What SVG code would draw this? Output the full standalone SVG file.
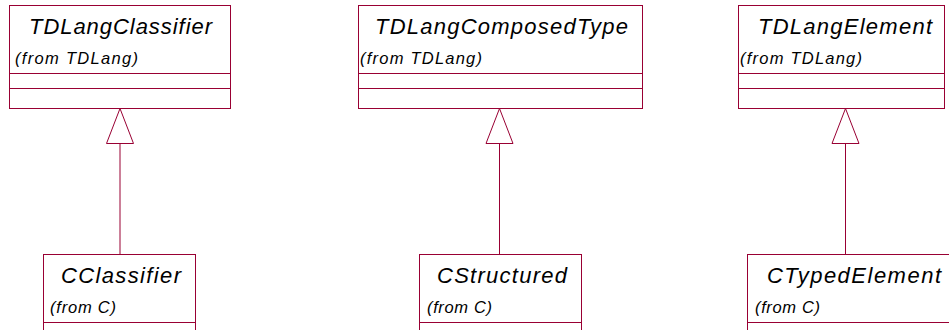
<svg xmlns="http://www.w3.org/2000/svg" width="949" height="330" viewBox="0 0 949 330">
<style>
.box{fill:#fff;stroke:#990033;stroke-width:1}
.ln{stroke:#990033;stroke-width:1;fill:none}
.t{font-family:"Liberation Sans",Arial,sans-serif;font-style:italic;font-size:22px;fill:#000}
.s{font-family:"Liberation Sans",Arial,sans-serif;font-style:italic;font-size:16.5px;fill:#000}
.tri{fill:#fff;stroke:#990033;stroke-width:1}
</style>
<rect width="949" height="330" fill="#fff"/>
<g id="connectors">
<line class="ln" x1="120" y1="143.5" x2="120" y2="254.5"/>
<polygon class="tri" points="120,108.5 106.5,143.5 133.5,143.5"/>
<line class="ln" x1="499.5" y1="143.5" x2="499.5" y2="254.5"/>
<polygon class="tri" points="499.5,108.5 486,143.5 513,143.5"/>
<line class="ln" x1="845.5" y1="143.5" x2="845.5" y2="254.5"/>
<polygon class="tri" points="845.5,108.5 832,143.5 859,143.5"/>
</g>
<g id="TDLangClassifier">
<rect class="box" x="9.5" y="5.5" width="221" height="103"/>
<line class="ln" x1="9.5" y1="73.5" x2="230.5" y2="73.5"/>
<line class="ln" x1="9.5" y1="88.5" x2="230.5" y2="88.5"/>
<text class="t" x="29" y="34" textLength="183" lengthAdjust="spacing">TDLangClassifier</text>
<text class="s" x="15" y="64" textLength="123" lengthAdjust="spacing">(from TDLang)</text>
</g>
<g id="TDLangComposedType">
<rect class="box" x="358.5" y="5.5" width="284" height="103"/>
<line class="ln" x1="358.5" y1="73.5" x2="642.5" y2="73.5"/>
<line class="ln" x1="358.5" y1="88.5" x2="642.5" y2="88.5"/>
<text class="t" x="375" y="34" textLength="253" lengthAdjust="spacing">TDLangComposedType</text>
<text class="s" x="360" y="64" textLength="122" lengthAdjust="spacing">(from TDLang)</text>
</g>
<g id="TDLangElement">
<rect class="box" x="738.5" y="5.5" width="206" height="103"/>
<line class="ln" x1="738.5" y1="73.5" x2="944.5" y2="73.5"/>
<line class="ln" x1="738.5" y1="88.5" x2="944.5" y2="88.5"/>
<text class="t" x="758" y="34" textLength="174" lengthAdjust="spacing">TDLangElement</text>
<text class="s" x="740" y="64" textLength="122" lengthAdjust="spacing">(from TDLang)</text>
</g>
<g id="CClassifier">
<rect class="box" x="43.5" y="254.5" width="152" height="103"/>
<line class="ln" x1="43.5" y1="322.5" x2="195.5" y2="322.5"/>
<text class="t" x="61" y="283" textLength="120" lengthAdjust="spacing">CClassifier</text>
<text class="s" x="50" y="313" textLength="66" lengthAdjust="spacing">(from C)</text>
</g>
<g id="CStructured">
<rect class="box" x="419.5" y="254.5" width="162" height="103"/>
<line class="ln" x1="419.5" y1="322.5" x2="581.5" y2="322.5"/>
<text class="t" x="437" y="283" textLength="130" lengthAdjust="spacing">CStructured</text>
<text class="s" x="427" y="313" textLength="65" lengthAdjust="spacing">(from C)</text>
</g>
<g id="CTypedElement">
<rect class="box" x="747.5" y="254.5" width="220" height="103"/>
<line class="ln" x1="747.5" y1="322.5" x2="967.5" y2="322.5"/>
<text class="t" x="767" y="283" textLength="174" lengthAdjust="spacing">CTypedElement</text>
<text class="s" x="755" y="313" textLength="65" lengthAdjust="spacing">(from C)</text>
</g>
</svg>
